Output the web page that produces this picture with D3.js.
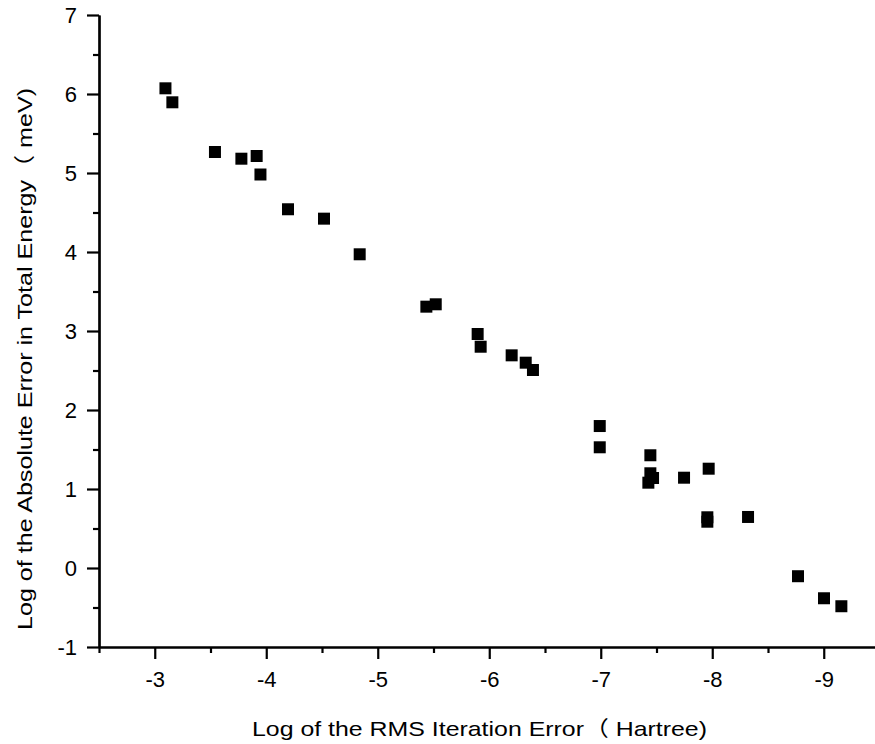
<!DOCTYPE html>
<html>
<head>
<meta charset="utf-8">
<script src="https://cdn.jsdelivr.net/npm/d3@7"></script>
<style>
  html, body { margin: 0; padding: 0; background: #fff; }
  svg { display: block; font-family: 'Liberation Sans', Arial, 'Noto Sans CJK SC', sans-serif; }
  .axis text { fill: #000; font-size: 22px; }
</style>
</head>
<body>
<div id="chart"></div>
<script>
// log10 of RMS iteration error (Hartree)
const rmsError = [
  -3.096, -3.158, -3.540, -3.777, -3.914, -3.948, -4.195, -4.518, -4.838, -5.436,
  -5.520, -5.896, -5.923, -6.201, -6.327, -6.392, -6.991, -6.991, -7.445, -7.445,
  -7.469, -7.427, -7.747, -7.968, -7.956, -7.956, -8.321, -8.769, -9.002, -9.158,
];
// log10 of absolute error in total energy (meV)
const energyError = [
  6.072, 5.895, 5.266, 5.181, 5.215, 4.981, 4.541, 4.422, 3.971, 3.308,
  3.338, 2.962, 2.801, 2.692, 2.599, 2.506, 1.797, 1.528, 1.427, 1.199,
  1.139, 1.080, 1.143, 1.257, 0.642, 0.586, 0.646, -0.104, -0.383, -0.484,
];
const xTicks = [-3, -4, -5, -6, -7, -8, -9];
const xMinorTicks = [-2.5, -3.5, -4.5, -5.5, -6.5, -7.5, -8.5];
const yTicks = [-1, 0, 1, 2, 3, 4, 5, 6, 7];
const yMinorTicks = [-0.5, 0.5, 1.5, 2.5, 3.5, 4.5, 5.5, 6.5];
const xTitle = 'Log of the RMS Iteration Error（ Hartree)';
const yTitle = 'Log of the Absolute Error in Total Energy（ meV)';

const width = 875;
const height = 744;
const margin = { left: 99, top: 15, bottom: 97 };

const svg = d3.select('#chart').append('svg')
  .attr('width', width)
  .attr('height', height);

// x runs from -2.5 to -9.5, the right end is cut by the page edge
const xScale = d3.scaleLinear()
  .domain([-2.5, -9.5])
  .range([margin.left, margin.left + 7 * 111.5]);

const yScale = d3.scaleLinear()
  .domain([-1, 7])
  .range([height - margin.bottom, margin.top]);

// plain hyphen for negatives, like the original
const fmt = (d) => `${d}`;

const xAxis = d3.axisBottom(xScale).tickValues(xTicks).tickSize(12).tickSizeOuter(0)
  .tickFormat(fmt);
const xMinor = d3.axisBottom(xScale).tickValues(xMinorTicks).tickSize(6).tickSizeOuter(0)
  .tickFormat('');
const yAxis = d3.axisLeft(yScale).tickValues(yTicks).tickSize(12).tickSizeOuter(0)
  .tickPadding(10).tickFormat(fmt);
const yMinor = d3.axisLeft(yScale).tickValues(yMinorTicks).tickSize(6).tickSizeOuter(0)
  .tickFormat('');

const gx = svg.append('g').attr('class', 'axis').attr('id', 'x-axis')
  .attr('transform', `translate(0, ${height - margin.bottom})`);
gx.call(xAxis);
gx.append('g').call(xMinor);

const gy = svg.append('g').attr('class', 'axis').attr('id', 'y-axis')
  .attr('transform', `translate(${margin.left}, 0)`);
gy.call(yAxis);
gy.append('g').call(yMinor);

svg.selectAll('.axis path, .axis line')
  .attr('stroke', '#000')
  .attr('stroke-width', 2.2);

gx.selectAll('text').attr('dy', null).attr('y', 40);
gy.selectAll('text').attr('dy', '0.36em');

/* ---------- points ---------- */
const square = d3.symbol().type(d3.symbolSquare).size(144);

svg.append('g')
  .selectAll('path')
  .data(rmsError.map((x, i) => ({ x, y: energyError[i] })))
  .enter()
  .append('path')
  .attr('d', square)
  .attr('transform', (d) => `translate(${xScale(d.x)}, ${yScale(d.y)})`)
  .style('fill', '#000');

/* ---------- titles ---------- */
svg.append('text')
  .attr('x', 252)
  .attr('y', 736)
  .attr('textLength', 455)
  .attr('lengthAdjust', 'spacingAndGlyphs')
  .style('font-size', '21px')
  .text(xTitle);

svg.append('text')
  .attr('transform', 'translate(32, 630) rotate(-90)')
  .attr('textLength', 542)
  .attr('lengthAdjust', 'spacingAndGlyphs')
  .style('font-size', '21px')
  .text(yTitle);
</script>
</body>
</html>
